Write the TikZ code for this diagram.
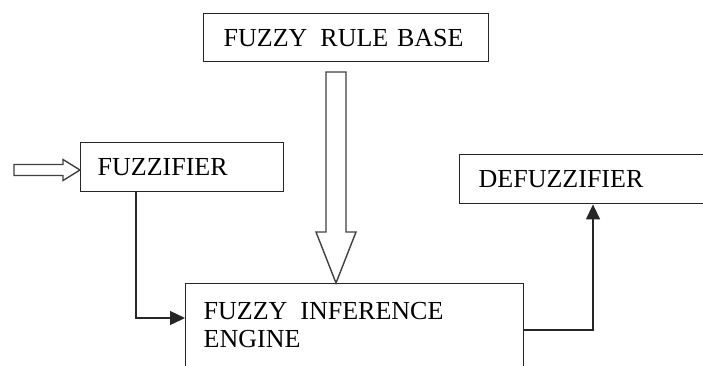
\documentclass[tikz,border=0pt]{standalone}
\usepackage{fontspec}
\setmainfont{Liberation Serif}
\usetikzlibrary{arrows.meta,calc}

\tikzset{
	block/.style={draw=black!85, line width=1.4pt, anchor=north west, align=left, inner ysep=0pt, font=\fontsize{26}{28}\selectfont},
	conn/.style={line width=1.4pt, draw=black!85, -{Triangle[length=15pt,width=14pt]}},
	hollow/.style={line width=1.4pt, draw=black!75, fill=white, line join=miter}
}

\begin{document}
\begin{tikzpicture}[x=1pt, y=-1pt]
		\useasboundingbox (0,0) rectangle (703,365);
		\clip (0,0) rectangle (703,365);
		\node[block, text width=245pt, inner xsep=20pt, minimum height=48pt] (rule) at (203,13) {FUZZY\ \,RULE BASE};
		\node[block, text width=169pt, inner xsep=17pt, minimum height=49pt] (fuzz) at (80,142) {FUZZIFIER};
		\node[block, text width=213pt, inner xsep=19pt, minimum height=49pt] (defuz) at (459,154) {DEFUZZIFIER};
		\node[block, text width=302pt, inner xsep=18pt, inner ysep=18.4pt, text depth=40pt] (engine) at (185,283) {FUZZY\ \,INFERENCE\\ENGINE};
		\coordinate (in) at ($(fuzz.north west)+(0,28)$);
		\coordinate (tip) at ($(engine.north west)+(151,0)$);
		\draw[hollow] (in) -- ++(-17,-10.5) -- ++(0,5) -- ++(-49,0) -- ++(0,11) -- ++(49,0) -- ++(0,5) -- cycle;
		\draw[hollow] (tip) -- ++(-20,-51) -- ++(10,0) -- ++(0,-160) -- ++(20,0) -- ++(0,160) -- ++(10,0) -- cycle;
		\draw[conn] ($(fuzz.south west)+(56,0)$) |- ($(engine.north west)+(0,35)$);
		\draw[conn] ($(engine.north east)+(0,47)$) -| ($(defuz.south west)+(134,0)$);
	\end{tikzpicture}
\end{document}
